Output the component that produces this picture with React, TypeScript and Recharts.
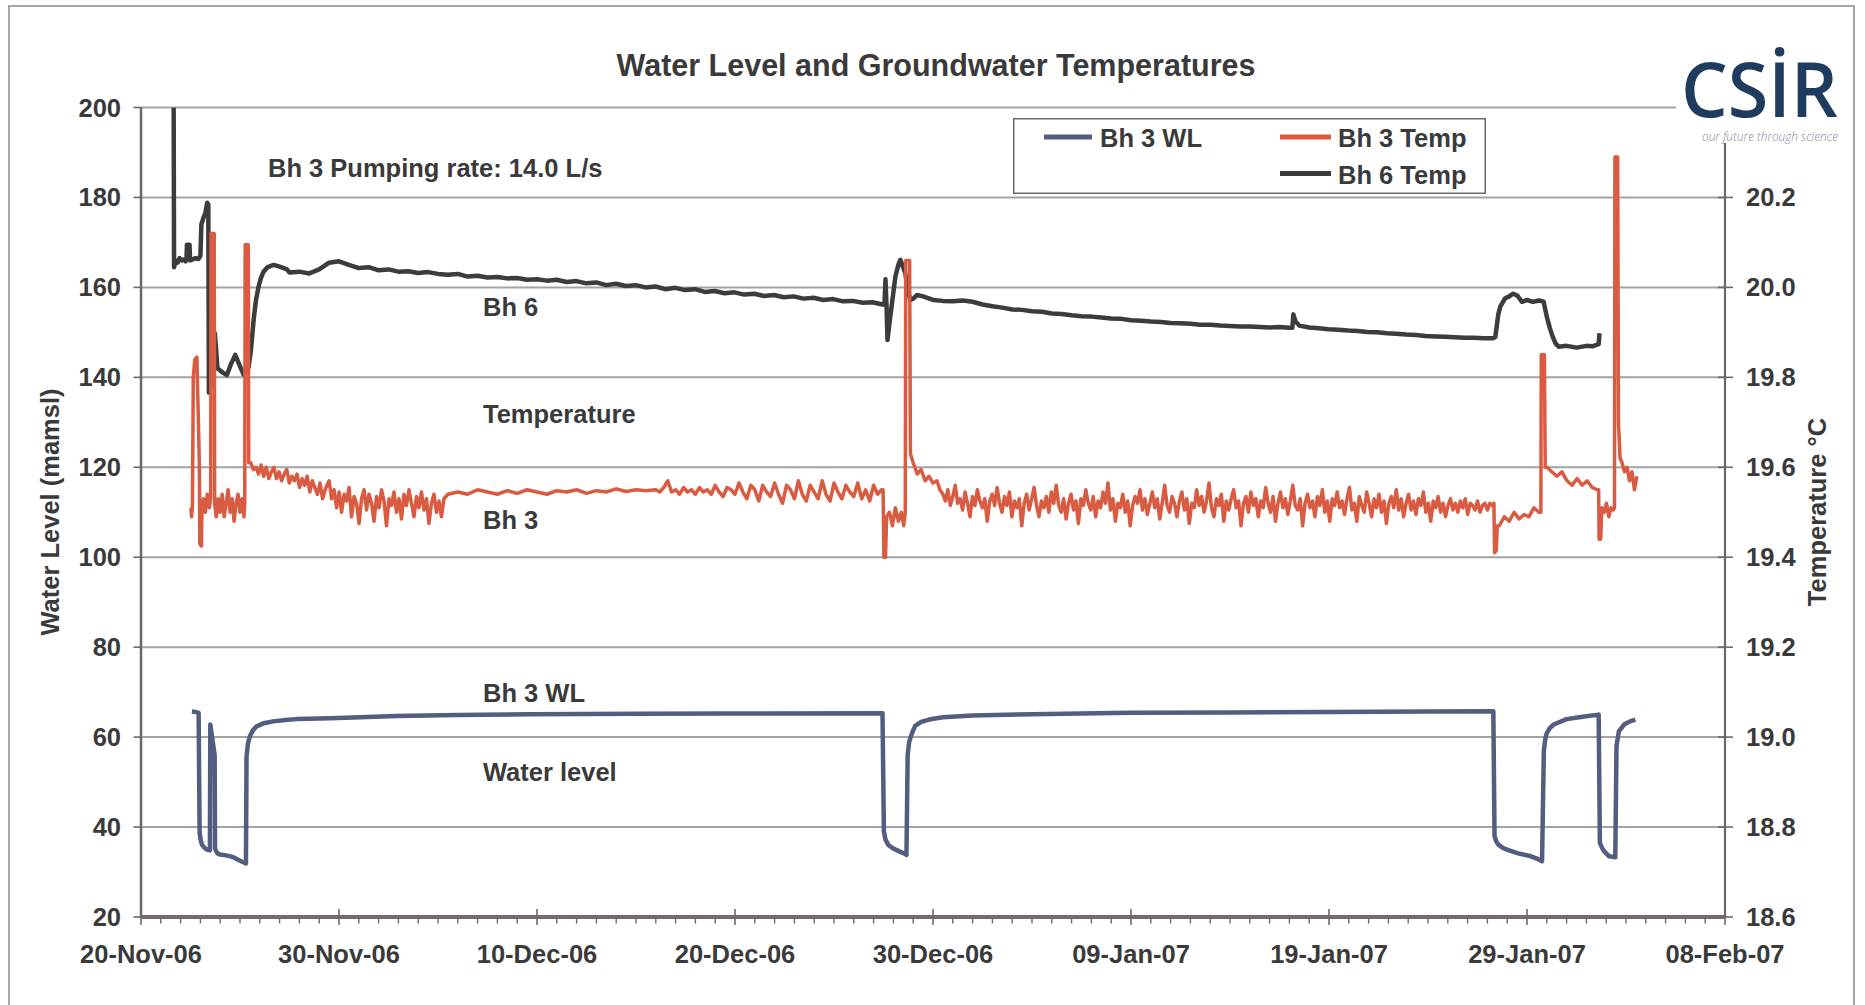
import React from 'react';
import { LineChart, Line, XAxis, YAxis, CartesianGrid, Legend } from 'recharts';

type Pt = [number, number];
type Run = { from: number; to: number; values: number[] };

// ---------- axis ticks / labels ----------
const xMajorDays = [0, 10, 20, 30, 40, 50, 60, 70, 80];
const xTickLabels = ['20-Nov-06', '30-Nov-06', '10-Dec-06', '20-Dec-06', '30-Dec-06', '09-Jan-07', '19-Jan-07', '29-Jan-07', '08-Feb-07'];
const allDays = Array.from({ length: 81 }, (_, i) => i);
const wlTicks = [20, 40, 60, 80, 100, 120, 140, 160, 180, 200];
const tempTicks = [18.6, 18.8, 19.0, 19.2, 19.4, 19.6, 19.8, 20.0, 20.2, 20.4];
const tempTickLabels = ['18.6', '18.8', '19.0', '19.2', '19.4', '19.6', '19.8', '20.0', '20.2', '20.4'];

// ---------- Bh 3 WL (mamsl) : [day since 20-Nov-06, value] ----------
const wlPoints: Pt[] = [
  [2.57, 65.7], [2.75, 65.6], [2.91, 65.4], [2.96, 38.7], [3.02, 37.0], [3.08, 36.1], [3.2, 35.4], [3.33, 35.0],
  [3.48, 34.8], [3.5, 62.8], [3.72, 56.0], [3.74, 35.2], [3.85, 34.2], [3.99, 33.9], [4.3, 33.7], [4.66, 33.3],
  [5.0, 32.5], [5.25, 32.0], [5.3, 31.9], [5.33, 55.7], [5.4, 58.5], [5.5, 60.2], [5.65, 61.5], [5.84, 62.4],
  [6.2, 63.1], [6.67, 63.5], [7.3, 63.8], [7.85, 64.0], [9.56, 64.2], [12.9, 64.7], [16, 64.9], [19.7, 65.1],
  [25, 65.2], [30, 65.25], [37.45, 65.3], [37.52, 39.0], [37.6, 37.2], [37.75, 36.0], [38.0, 35.2], [38.3, 34.6],
  [38.6, 34.0], [38.66, 33.8], [38.72, 56.0], [38.8, 59.0], [38.95, 61.0], [39.1, 62.5], [39.4, 63.4], [39.8, 63.9],
  [40.5, 64.4], [42, 64.8], [45, 65.1], [50, 65.4], [55, 65.5], [60, 65.6], [65, 65.7], [68.3, 65.73],
  [68.36, 38.0], [68.45, 36.8], [68.55, 36.1], [68.8, 35.3], [68.99, 35.0], [69.5, 34.2], [70.2, 33.5], [70.5, 33.0],
  [70.76, 32.4], [70.85, 56.9], [70.92, 59.5], [71.0, 60.9], [71.15, 62.0], [71.35, 62.8], [72.0, 64.0], [72.9, 64.6],
  [73.62, 65.0], [73.68, 36.5], [73.8, 35.3], [73.9, 34.6], [74.15, 33.5], [74.46, 33.3], [74.52, 58.0], [74.64, 61.3],
  [74.9, 62.8], [75.2, 63.5], [75.47, 63.9],
];

// ---------- Bh 6 Temp (deg C) ----------
const bh6Start: Pt[] = [
  [1.65, 20.4], [1.67, 20.045], [1.75, 20.06], [1.85, 20.055], [1.95, 20.065], [2.05, 20.06], [2.15, 20.062],
  [2.25, 20.058], [2.3, 20.065], [2.32, 20.095], [2.45, 20.095], [2.48, 20.06], [2.6, 20.062], [2.75, 20.065],
  [2.9, 20.063], [3.0, 20.07], [3.05, 20.14], [3.17, 20.157], [3.25, 20.165], [3.34, 20.188], [3.4, 20.185],
  [3.43, 19.766], [3.5, 19.78], [3.6, 19.817], [3.7, 19.82], [3.73, 19.898], [3.78, 19.87], [3.86, 19.82],
  [4.0, 19.815], [4.15, 19.81], [4.34, 19.805], [4.55, 19.83], [4.76, 19.85], [4.95, 19.83], [5.18, 19.806],
  [5.3, 19.812], [5.43, 19.822], [5.55, 19.86], [5.69, 19.928], [5.8, 19.97], [5.94, 20.002], [6.05, 20.02],
  [6.19, 20.035], [6.4, 20.045], [6.7, 20.05], [7.0, 20.046], [7.37, 20.04],
];
const bh6Run1: Run = { from: 7.5, to: 20.0, values: [20.033, 20.035, 20.031, 20.04, 20.055, 20.058, 20.05, 20.043, 20.045, 20.038, 20.04, 20.035, 20.036, 20.032, 20.034, 20.03, 20.028, 20.03, 20.024, 20.026, 20.022, 20.023, 20.02, 20.021, 20.017, 20.018] };
const bh6Run2: Run = { from: 20.5, to: 37.45, values: [20.015, 20.017, 20.012, 20.014, 20.009, 20.011, 20.005, 20.008, 20.003, 20.005, 20.0, 20.002, 19.996, 19.999, 19.994, 19.996, 19.99, 19.992, 19.987, 19.989, 19.984, 19.986, 19.981, 19.983, 19.978, 19.98, 19.975, 19.977, 19.972, 19.974, 19.969, 19.97, 19.966, 19.967, 19.962] };
const bh6Event1: Pt[] = [
  [37.55, 19.962], [37.6, 20.018], [37.66, 19.95], [37.7, 19.883], [37.8, 19.92], [37.93, 19.965], [38.1, 20.024],
  [38.25, 20.05], [38.35, 20.061], [38.45, 20.05], [38.6, 20.032], [38.72, 19.995], [38.85, 19.972], [39.0, 19.975], [39.2, 19.983],
];
const bh6Run3: Run = { from: 39.5, to: 58.0, values: [19.98, 19.972, 19.97, 19.969, 19.971, 19.968, 19.962, 19.958, 19.955, 19.951, 19.95, 19.947, 19.946, 19.942, 19.941, 19.938, 19.936, 19.935, 19.933, 19.931, 19.93, 19.927, 19.926, 19.924, 19.923, 19.921, 19.92, 19.919, 19.917, 19.917, 19.915, 19.914, 19.913, 19.913, 19.912, 19.911, 19.912, 19.91] };
const bh6Bump: Pt[] = [[58.15, 19.91], [58.2, 19.94], [58.3, 19.925], [58.5, 19.915]];
const bh6Run4: Run = { from: 59.0, to: 68.3, values: [19.911, 19.909, 19.907, 19.906, 19.904, 19.903, 19.901, 19.9, 19.898, 19.897, 19.895, 19.894, 19.892, 19.891, 19.89, 19.889, 19.888, 19.888, 19.887, 19.887] };
const bh6End: Pt[] = [
  [68.4, 19.89], [68.55, 19.94], [68.65, 19.957], [68.9, 19.976], [69.1, 19.98], [69.3, 19.986], [69.5, 19.982],
  [69.75, 19.968], [70.0, 19.972], [70.3, 19.968], [70.6, 19.971], [70.84, 19.968], [71.0, 19.935], [71.15, 19.91],
  [71.3, 19.89], [71.45, 19.875], [71.6, 19.868], [72.0, 19.87], [72.5, 19.866], [73.0, 19.87], [73.3, 19.869],
  [73.62, 19.874], [73.66, 19.898],
];

// ---------- Bh 3 Temp (deg C) ----------
const bh3Start: Pt[] = [
  [2.52, 19.51], [2.56, 19.49], [2.6, 19.52], [2.64, 19.8], [2.72, 19.84], [2.82, 19.845], [2.9, 19.7], [2.95, 19.6],
  [2.97, 19.43], [3.05, 19.425], [3.08, 19.51], [3.15, 19.53], [3.25, 19.5], [3.35, 19.54], [3.45, 19.51], [3.52, 19.53],
  [3.54, 20.12], [3.7, 20.12], [3.72, 19.52], [3.8, 19.49], [3.9, 19.53], [4.0, 19.5], [4.1, 19.54], [4.2, 19.49],
  [4.3, 19.52], [4.4, 19.55], [4.5, 19.5], [4.6, 19.53], [4.7, 19.48], [4.8, 19.52], [4.9, 19.54], [5.0, 19.5],
  [5.1, 19.53], [5.2, 19.49], [5.24, 19.52], [5.26, 20.095], [5.42, 20.095], [5.44, 19.61],
];
const bh3Run1: Run = { from: 5.55, to: 9.3, values: [19.61, 19.595, 19.6, 19.585, 19.605, 19.58, 19.6, 19.575, 19.59, 19.6, 19.575, 19.59, 19.57, 19.585, 19.595, 19.565, 19.58, 19.57, 19.585, 19.555, 19.575, 19.56, 19.58, 19.545, 19.57, 19.555, 19.54, 19.565, 19.53, 19.55] };
const bh3Run2: Run = { from: 9.5, to: 15.3, values: [
  19.57, 19.53, 19.55, 19.51, 19.545, 19.5, 19.54, 19.525, 19.555, 19.49, 19.535, 19.52, 19.475, 19.53, 19.55, 19.505,
  19.54, 19.52, 19.48, 19.535, 19.51, 19.55, 19.525, 19.47, 19.53, 19.515, 19.545, 19.5, 19.53, 19.485, 19.54, 19.515,
  19.55, 19.52, 19.49, 19.535, 19.51, 19.545, 19.505, 19.53, 19.475, 19.52, 19.54, 19.5, 19.525, 19.49, 19.53,
] };
const bh3Run3: Run = { from: 15.5, to: 25.5, values: [19.54, 19.545, 19.54, 19.55, 19.545, 19.54, 19.548, 19.542, 19.55, 19.545, 19.54, 19.548, 19.545, 19.55, 19.542, 19.548, 19.545, 19.552, 19.546, 19.55, 19.548] };
const bh3Run4: Run = { from: 26.0, to: 37.4, values: [
  19.55, 19.545, 19.555, 19.57, 19.545, 19.55, 19.54, 19.555, 19.545, 19.55, 19.54, 19.555, 19.545, 19.55, 19.54, 19.56,
  19.545, 19.535, 19.555, 19.55, 19.54, 19.565, 19.545, 19.53, 19.56, 19.55, 19.525, 19.56, 19.545, 19.535, 19.565, 19.54,
  19.52, 19.56, 19.55, 19.53, 19.57, 19.54, 19.525, 19.56, 19.545, 19.53, 19.57, 19.54, 19.525, 19.565, 19.545, 19.53,
  19.56, 19.545, 19.535, 19.565, 19.53, 19.55, 19.525, 19.56, 19.54, 19.55,
] };
const bh3Event1: Pt[] = [
  [37.48, 19.55], [37.52, 19.4], [37.6, 19.4], [37.66, 19.49], [37.8, 19.5], [37.95, 19.47], [38.1, 19.51], [38.25, 19.48],
  [38.4, 19.5], [38.52, 19.47], [38.6, 19.5], [38.62, 20.06], [38.82, 20.06], [38.86, 19.63], [39.0, 19.61], [39.2, 19.585],
  [39.4, 19.595], [39.6, 19.57], [39.8, 19.58], [40.0, 19.565], [40.2, 19.57], [40.35, 19.55],
];
const bh3Run5: Run = { from: 40.5, to: 68.25, values: [
  19.54, 19.525, 19.55, 19.515, 19.535, 19.56, 19.52, 19.53, 19.505, 19.545, 19.52, 19.49, 19.535, 19.515, 19.55, 19.525,
  19.51, 19.53, 19.48, 19.525, 19.54, 19.515, 19.555, 19.52, 19.5, 19.535, 19.515, 19.545, 19.49, 19.525, 19.51, 19.53,
  19.47, 19.52, 19.54, 19.505, 19.53, 19.555, 19.515, 19.49, 19.525, 19.51, 19.535, 19.5, 19.545, 19.52, 19.56, 19.515,
  19.5, 19.53, 19.485, 19.52, 19.54, 19.505, 19.525, 19.475, 19.53, 19.515, 19.55, 19.52, 19.505, 19.535, 19.49, 19.525,
  19.51, 19.545, 19.52, 19.565, 19.505, 19.53, 19.48, 19.52, 19.51, 19.54, 19.5, 19.525, 19.47, 19.515, 19.535, 19.52,
  19.55, 19.505, 19.53, 19.495, 19.52, 19.545, 19.51, 19.53, 19.485, 19.52, 19.56, 19.515, 19.5, 19.535, 19.52, 19.49,
  19.525, 19.545, 19.505, 19.53, 19.475, 19.52, 19.51, 19.55, 19.515, 19.535, 19.5, 19.525, 19.565, 19.51, 19.49, 19.53,
  19.515, 19.54, 19.48, 19.525, 19.505, 19.53, 19.55, 19.51, 19.525, 19.47, 19.52, 19.535, 19.5, 19.545, 19.515, 19.53,
  19.49, 19.525, 19.51, 19.555, 19.52, 19.5, 19.535, 19.48, 19.52, 19.545, 19.51, 19.53, 19.495, 19.525, 19.56, 19.515,
  19.505, 19.53, 19.47, 19.52, 19.54, 19.51, 19.525, 19.49, 19.535, 19.515, 19.55, 19.5, 19.525, 19.48, 19.53, 19.515,
  19.545, 19.51, 19.525, 19.495, 19.53, 19.555, 19.505, 19.52, 19.48, 19.535, 19.515, 19.5, 19.545, 19.52, 19.49, 19.53,
  19.51, 19.54, 19.5, 19.525, 19.475, 19.52, 19.535, 19.51, 19.55, 19.505, 19.53, 19.49, 19.52, 19.54, 19.505, 19.525,
  19.495, 19.53, 19.515, 19.545, 19.5, 19.52, 19.48, 19.525, 19.51, 19.535, 19.5, 19.52, 19.49, 19.515, 19.53, 19.505,
  19.52, 19.5, 19.525, 19.51, 19.53, 19.495, 19.52, 19.515, 19.505, 19.525, 19.5, 19.515, 19.52, 19.505, 19.52, 19.515,
] };
const bh3Event2: Pt[] = [[68.33, 19.52], [68.36, 19.41], [68.45, 19.415], [68.5, 19.47]];
const bh3Run6: Run = { from: 68.6, to: 70.6, values: [19.47, 19.49, 19.48, 19.5, 19.485, 19.495, 19.49, 19.51, 19.5] };
const bh3Event3: Pt[] = [[70.7, 19.5], [70.72, 19.85], [70.88, 19.85], [70.92, 19.6]];
const bh3Run7: Run = { from: 71.0, to: 73.55, values: [19.6, 19.59, 19.58, 19.59, 19.57, 19.56, 19.575, 19.56, 19.57, 19.555, 19.55] };
const bh3Event4: Pt[] = [[73.62, 19.55], [73.64, 19.44], [73.72, 19.44], [73.78, 19.51]];
const bh3Run8: Run = { from: 73.9, to: 74.36, values: [19.5, 19.52, 19.49, 19.51, 19.505] };
const bh3Event5: Pt[] = [[74.42, 19.51], [74.44, 20.29], [74.58, 20.29], [74.62, 19.7], [74.7, 19.62]];
const bh3Run9: Run = { from: 74.8, to: 75.55, values: [19.61, 19.59, 19.6, 19.57, 19.59, 19.55, 19.58] };

const build = (parts: (Pt[] | Run)[]) => {
  const out: { d: number; v: number }[] = [];
  parts.forEach((p) => {
    if (Array.isArray(p)) p.forEach(([d, v]) => out.push({ d, v }));
    else {
      const n = p.values.length;
      p.values.forEach((v, i) => out.push({ d: p.from + (n > 1 ? (i * (p.to - p.from)) / (n - 1) : 0), v }));
    }
  });
  return out;
};

const wlData = build([wlPoints]);
const bh6Data = build([bh6Start, bh6Run1, bh6Run2, bh6Event1, bh6Run3, bh6Bump, bh6Run4, bh6End]);
const bh3Data = build([bh3Start, bh3Run1, bh3Run2, bh3Run3, bh3Run4, bh3Event1, bh3Run5, bh3Event2, bh3Run6, bh3Event3, bh3Run7, bh3Event4, bh3Run8, bh3Event5, bh3Run9]);

// ---------- styles ----------
const FONT = '"Liberation Sans", Arial, Helvetica, sans-serif';
const TXT = '#3a3a3a';
const AXIS = '#6e6767';
const GRID = '#a3a3a3';
const WL_C = '#525d80';
const T3_C = '#d95b41';
const T6_C = '#3c3c3c';
const FS = 25.5;

const XTick = (props: any) => {
  const { x, y, payload } = props;
  const idx = xMajorDays.indexOf(payload.value);
  if (idx >= 0) {
    return (
      <g>
        <line x1={x} x2={x} y1={y - 8} y2={y + 8} stroke={AXIS} strokeWidth={1.6} />
        <text x={x} y={y + 46} textAnchor="middle" fontFamily={FONT} fontWeight="bold" fontSize={FS} fill={TXT}>
          {xTickLabels[idx]}
        </text>
      </g>
    );
  }
  return <line x1={x} x2={x} y1={y} y2={y + 6.5} stroke={AXIS} strokeWidth={1.4} />;
};

const YLTick = (props: any) => {
  const { x, y, payload } = props;
  return (
    <g>
      <line x1={x - 7.5} x2={x} y1={y} y2={y} stroke={AXIS} strokeWidth={1.6} />
      <text x={x - 20} y={y + 9} textAnchor="end" fontFamily={FONT} fontWeight="bold" fontSize={FS} fill={TXT}>
        {String(payload.value)}
      </text>
    </g>
  );
};

const YRTick = (props: any) => {
  const { x, y, payload, index } = props;
  return (
    <g>
      <line x1={x - 7} x2={x + 8} y1={y} y2={y} stroke={AXIS} strokeWidth={1.6} />
      <text x={x + 21} y={y + 9} textAnchor="start" fontFamily={FONT} fontWeight="bold" fontSize={FS} fill={TXT}>
        {tempTickLabels[index] ?? String(payload.value)}
      </text>
    </g>
  );
};

const legendLayout: { name: string; x1: number; x2: number; ly: number; tx: number; ty: number }[] = [
  { name: 'Bh 3 WL', x1: 31, x2: 79, ly: 19, tx: 87, ty: 29 },
  { name: 'Bh 3 Temp', x1: 267, x2: 318, ly: 19, tx: 325, ty: 29 },
  { name: 'Bh 6 Temp', x1: 267, x2: 318, ly: 55.5, tx: 325, ty: 65.5 },
];

const LegendBox = (props: any) => {
  const payload: any[] = props.payload || [];
  return (
    <svg width={474} height={77} style={{ display: 'block' }}>
      <rect x={0.75} y={0.75} width={471.5} height={74.5} fill="#fff" stroke="#6a6a6a" strokeWidth={1.5} />
      {legendLayout.map((it) => {
        const entry = payload.find((p) => p.value === it.name);
        const color = entry ? entry.color : '#000';
        return (
          <g key={it.name}>
            <line x1={it.x1} x2={it.x2} y1={it.ly} y2={it.ly} stroke={color} strokeWidth={5} />
            <text x={it.tx} y={it.ty} fontFamily={FONT} fontWeight="bold" fontSize={FS} fill={TXT}>
              {it.name}
            </text>
          </g>
        );
      })}
    </svg>
  );
};

export default function App() {
  return (
    <div style={{ position: 'absolute', left: 0, top: 0, width: 1865, height: 1005, background: '#fff', overflow: 'hidden' }}>
      <LineChart width={1865} height={1005} margin={{ top: 107.5, right: 0, bottom: 0, left: 0 }}>
        <CartesianGrid yAxisId="wl" vertical={false} stroke={GRID} strokeWidth={2} />
        <XAxis
          dataKey="d"
          type="number"
          domain={[0, 80]}
          ticks={allDays}
          interval={0}
          tickSize={0}
          tickMargin={0}
          tick={(p: any) => <XTick {...p} />}
          axisLine={{ stroke: '#756b6b', strokeWidth: 4 }}
          height={88}
          allowDataOverflow
        />
        <YAxis
          yAxisId="wl"
          orientation="left"
          domain={[20, 200]}
          ticks={wlTicks}
          interval={0}
          width={141}
          tickSize={0}
          tickMargin={0}
          tick={(p: any) => <YLTick {...p} />}
          axisLine={{ stroke: AXIS, strokeWidth: 2.5 }}
          allowDataOverflow
        />
        <YAxis
          yAxisId="temp"
          orientation="right"
          domain={[18.6, 20.4]}
          ticks={tempTicks}
          interval={0}
          width={140}
          tickSize={0}
          tickMargin={0}
          tick={(p: any) => <YRTick {...p} />}
          axisLine={{ stroke: AXIS, strokeWidth: 2.2 }}
          allowDataOverflow
        />
        <Legend
          layout="horizontal"
          verticalAlign="middle"
          align="center"
          content={(p: any) => <LegendBox {...p} />}
          wrapperStyle={{ position: 'absolute', left: 1013, top: 118, width: 474, height: 77 }}
        />
        <Line yAxisId="wl" data={wlData} dataKey="v" name="Bh 3 WL" type="linear" stroke={WL_C} strokeWidth={4.5} dot={false} activeDot={false} isAnimationActive={false} strokeLinejoin="round" />
        <Line yAxisId="temp" data={bh6Data} dataKey="v" name="Bh 6 Temp" type="linear" stroke={T6_C} strokeWidth={4.5} dot={false} activeDot={false} isAnimationActive={false} strokeLinejoin="round" />
        <Line yAxisId="temp" data={bh3Data} dataKey="v" name="Bh 3 Temp" type="linear" stroke={T3_C} strokeWidth={3.5} dot={false} activeDot={false} isAnimationActive={false} strokeLinejoin="round" />
      </LineChart>
      <svg width={1865} height={1005} style={{ position: 'absolute', left: 0, top: 0, pointerEvents: 'none' }}>
        <rect x={9} y={6} width={1845} height={1020} fill="none" stroke="#8a8a8a" strokeWidth={1.5} />
        <text x={936} y={76} textAnchor="middle" fontFamily={FONT} fontWeight="bold" fontSize={30.5} fill={TXT}>
          Water Level and Groundwater Temperatures
        </text>
        <g fontFamily={FONT} fontWeight="bold" fontSize={FS} fill={TXT}>
          <text x={268} y={177}>Bh 3 Pumping rate: 14.0 L/s</text>
          <text x={483} y={316}>Bh 6</text>
          <text x={483} y={423}>Temperature</text>
          <text x={483} y={529}>Bh 3</text>
          <text x={483} y={702}>Bh 3 WL</text>
          <text x={483} y={781}>Water level</text>
          <text transform="translate(59,512) rotate(-90)" textAnchor="middle">Water Level (mamsl)</text>
          <text transform="translate(1826,512) rotate(-90)" textAnchor="middle">Temperature °C</text>
        </g>
        <rect x={1676} y={12} width={175} height={131} fill="#fff" />
        <text transform="translate(1681,116.5) scale(1,1.25)" x={0} y={0} textLength={157} lengthAdjust="spacingAndGlyphs" fontFamily='"Open Sans", "Noto Sans", sans-serif' fontWeight={600} fontSize={61} fill="#1f3b5e">
          CSİR
        </text>
        <text x={1702} y={141} textLength={136} lengthAdjust="spacingAndGlyphs" fontFamily='"Open Sans", "Noto Sans", sans-serif' fontStyle="italic" fontWeight={300} fontSize={12.5} fill="#7d8aa0">
          our future through science
        </text>
      </svg>
    </div>
  );
}
